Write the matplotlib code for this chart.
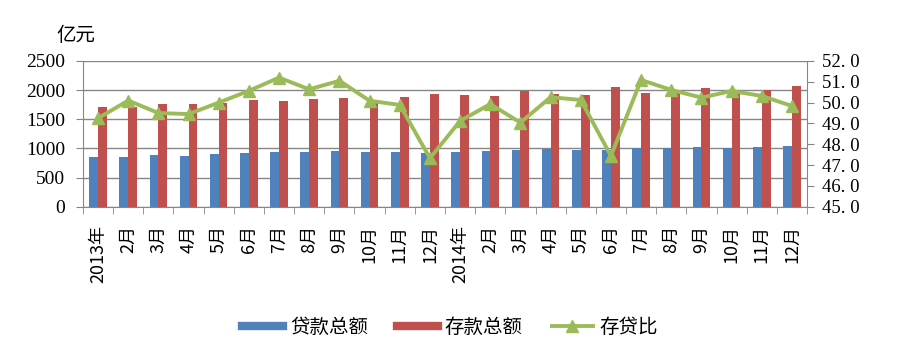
#!/usr/bin/env python3
# -*- coding: utf-8 -*-

import numpy as np
import matplotlib
matplotlib.use("Agg")
import matplotlib.pyplot as plt
from matplotlib.lines import Line2D

# ---------- Data ----------
months = ["2013年", "2月", "3月", "4月", "5月", "6月", "7月", "8月", "9月",
          "10月", "11月", "12月", "2014年", "2月", "3月", "4月", "5月", "6月",
          "7月", "8月", "9月", "10月", "11月", "12月"]

loans = [855, 858, 885, 870, 900, 920, 935, 940, 955, 940, 940, 918,
         940, 955, 973, 995, 973, 975, 1005, 1000, 1028, 1005, 1028, 1040]

deposits = [1710, 1710, 1760, 1760, 1778, 1830, 1812, 1843, 1860, 1820, 1882, 1934,
            1917, 1900, 1985, 1934, 1917, 2054, 1956, 2002, 2037, 2002, 2002, 2071]

ratio = [49.25, 50.1, 49.5, 49.45, 50.0, 50.57, 51.2, 50.64, 51.05, 50.09, 49.89, 47.33,
         49.12, 49.93, 49.04, 50.26, 50.13, 47.44, 51.09, 50.61, 50.24, 50.56, 50.32, 49.84]

# ---------- Style ----------
plt.rcParams["font.family"] = ["Noto Sans CJK SC", "DejaVu Sans"]
BLUE = "#4F81BD"
RED = "#C0504D"
GREEN = "#9BBB59"
GRAY = "#868686"
SERIF = ["Liberation Serif", "DejaVu Serif"]

fig = plt.figure(figsize=(9, 3.55), dpi=100)
ax = fig.add_axes([0.0922, 0.4177, 0.8045, 0.4105])

x = np.arange(len(months))
w = 0.29
ax.bar(x - w / 2, loans, width=w, color=BLUE, zorder=2)
ax.bar(x + w / 2, deposits, width=w, color=RED, zorder=2)

ax.set_xlim(-0.5, len(months) - 0.5)
ax.set_ylim(0, 2500)
ax.set_yticks(range(0, 2501, 500))
ax.yaxis.grid(True, color=GRAY, lw=1, zorder=0)
ax.set_axisbelow(True)

ax.set_xticks(x)
ax.set_xticklabels(months, rotation=90, fontsize=13)
ax.set_xticks(np.arange(-0.5, len(months)), minor=True)
ax.tick_params(axis="x", which="major", length=0, pad=13)
ax.tick_params(axis="x", which="minor", length=5, color=GRAY, direction="out")
ax.tick_params(axis="y", length=5, color=GRAY, labelsize=14, pad=8)
for lbl in ax.get_yticklabels():
    lbl.set_family(SERIF)

for s in ["top", "right"]:
    ax.spines[s].set_visible(False)
for s in ["left", "bottom"]:
    ax.spines[s].set_color(GRAY)

# ---------- Ratio axis ----------
ax2 = ax.twinx()
ax2.plot(x, ratio, color=GREEN, lw=2.8, marker="^", markersize=9,
         markerfacecolor=GREEN, markeredgecolor=GREEN)
ax2.set_ylim(45, 52)
ax2.set_yticks(np.arange(45, 52.01, 1))
ax2.set_yticklabels([f"{v:.1f}".replace(".", ". ") for v in np.arange(45, 52.01, 1)],
                    family=SERIF, fontsize=13.5)
ax2.tick_params(axis="y", length=5, color=GRAY, pad=6)
for s in ["top", "left", "bottom"]:
    ax2.spines[s].set_visible(False)
ax2.spines["right"].set_color(GRAY)

fig.text(0.063, 0.9, "亿元", fontsize=14, ha="left", va="center")

handles = [
    Line2D([0], [0], color=BLUE, lw=6),
    Line2D([0], [0], color=RED, lw=6),
    Line2D([0], [0], color=GREEN, lw=2.8, marker="^", markersize=8),
]
fig.legend(handles, ["贷款总额", "存款总额", "存贷比"], loc="center",
           bbox_to_anchor=(0.5, 0.078), ncol=3, frameon=False, fontsize=14,
           handlelength=2.1, handletextpad=0.35, columnspacing=1.5)

fig.savefig("out.png", dpi=100)
